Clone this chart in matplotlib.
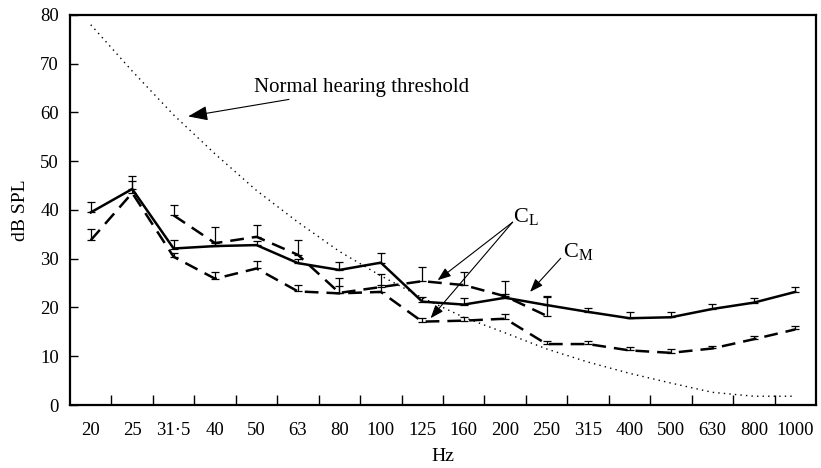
"""Hearing thresholds for C_M and C_L versus frequency, with normal threshold."""

import matplotlib
matplotlib.use("Agg")
import matplotlib.pyplot as plt
import numpy as np

plt.rcParams["font.family"] = ["Liberation Serif", "DejaVu Serif"]
plt.rcParams["mathtext.fontset"] = "custom"
plt.rcParams["mathtext.rm"] = "Liberation Serif"
plt.rcParams["mathtext.it"] = "Liberation Serif:italic"

freq_labels = ["20", "25", "31\u00b75", "40", "50", "63", "80", "100", "125",
               "160", "200", "250", "315", "400", "500", "630", "800", "1000"]

# C_M (solid)
cm_values = [39.5, 44.3, 32.1, 32.6, 32.8, 29.1, 27.7, 29.2, 21.2, 20.6,
             22.0, 20.5, 19.1, 17.8, 18.0, 19.7, 21.0, 23.2]
cm_err = [2.2, 2.6, 1.7, 0.8, 0.8, 0.8, 1.7, 1.9, 0.9, 1.3,
          0.8, 1.7, 0.8, 1.2, 1.1, 1.0, 0.9, 1.0]

# C_L, lower dashed curve (whole range)
cl_low_values = [33.8, 43.5, 30.4, 25.9, 28.0, 23.3, 22.9, 23.2, 17.1, 17.3,
                 17.7, 12.5, 12.5, 11.2, 10.7, 11.6, 13.5, 15.5]
cl_low_err = [2.2, 2.5, 0.8, 1.4, 1.5, 1.4, 1.5, 1.5, 0.8, 0.7,
              0.9, 0.6, 0.7, 0.8, 0.7, 0.6, 0.7, 0.8]

# C_L, upper dashed curve (31.5 Hz to 250 Hz)
cl_high_start = 2
cl_high_values = [38.9, 33.2, 34.5, 30.8, 23.0, 24.2, 25.4, 24.6, 22.3, 18.3]
cl_high_err = [2.1, 3.4, 2.4, 3.1, 3.1, 2.6, 2.9, 2.7, 3.1, 4.0]

# normal hearing threshold (dotted)
normal_values = [78.0, 68.5, 59.5, 51.5, 44.0, 37.5, 31.5, 26.5, 22.0, 18.0,
                 14.8, 11.5, 8.8, 6.5, 4.5, 2.6, 1.8, 1.8]

x = np.arange(len(freq_labels))
x_high = x[cl_high_start:cl_high_start + len(cl_high_values)]

fig = plt.figure(figsize=(8.21, 4.68), dpi=100)
ax = fig.add_axes([0.0853, 0.1346, 0.9086, 0.8334])

err_kw = dict(fmt="none", ecolor="black", elinewidth=0.9, capsize=2.8, capthick=0.9)
ax.errorbar(x, cm_values, yerr=[np.zeros(len(cm_err)), cm_err], **err_kw)
ax.errorbar(x, cl_low_values, yerr=[np.zeros(len(cl_low_err)), cl_low_err], **err_kw)
ax.errorbar(x_high, cl_high_values, yerr=[np.zeros(len(cl_high_err)), cl_high_err], **err_kw)

dashed = (0, (5.5, 3.2))
ax.plot(x, normal_values, color="black", lw=1.0, linestyle=(0, (1, 3)))
ax.plot(x, cm_values, color="black", lw=1.8, solid_joinstyle="miter")
ax.plot(x, cl_low_values, color="black", lw=1.8, linestyle=dashed)
ax.plot(x_high, cl_high_values, color="black", lw=1.8, linestyle=dashed)

ax.set_xlim(-0.5, len(freq_labels) - 0.5)
ax.set_ylim(0, 80)
ax.set_yticks(np.arange(0, 81, 10))
ax.set_xticks(x)
ax.set_xticklabels(freq_labels)
ax.set_xticks(np.arange(0.5, len(freq_labels) - 1, 1.0), minor=True)
ax.tick_params(axis="x", which="major", length=0, pad=12, labelsize=13.5)
ax.tick_params(axis="x", which="minor", direction="in", length=7, width=1.0)
ax.tick_params(axis="y", direction="in", length=6, width=1.0, pad=8, labelsize=13.5)
for spine in ax.spines.values():
    spine.set_linewidth(1.6)

ax.set_xlabel("Hz", fontsize=14, labelpad=7)
ax.set_ylabel("dB SPL", fontsize=14, labelpad=8)

arrow = dict(arrowstyle="-|>,head_length=0.8,head_width=0.3", color="black",
             lw=0.8, shrinkA=0, shrinkB=0)
ax.annotate("Normal hearing threshold", xy=(2.35, 59.2), xytext=(3.95, 65.2),
            fontsize=15, va="center", ha="left", arrowprops=arrow)
ax.annotate("", xy=(8.37, 25.6), xytext=(10.18, 37.5), arrowprops=arrow)
ax.annotate("", xy=(8.2, 17.8), xytext=(10.18, 37.5), arrowprops=arrow)
ax.text(10.2, 38.6, r"C$_\mathrm{L}$", fontsize=16, ha="left", va="center")
ax.annotate("", xy=(10.6, 23.2), xytext=(11.34, 30.1), arrowprops=arrow)
ax.text(11.4, 31.5, r"C$_\mathrm{M}$", fontsize=16, ha="left", va="center")

fig.savefig("out.png", dpi=100)
plt.close(fig)
